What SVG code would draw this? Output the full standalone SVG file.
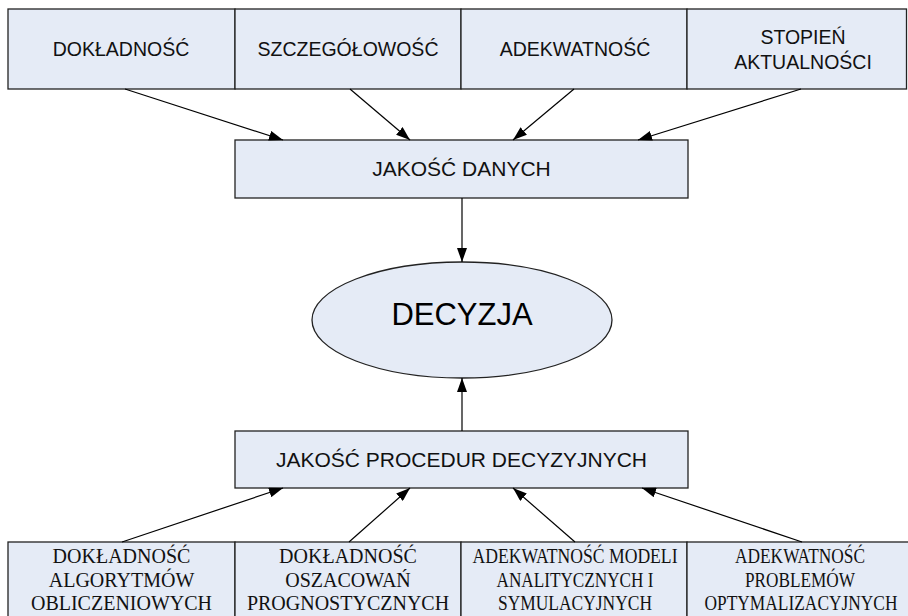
<svg xmlns="http://www.w3.org/2000/svg" width="908" height="616" viewBox="0 0 908 616">
  <defs>
    <marker id="arrow" viewBox="0 0 14 10" refX="14" refY="5" markerWidth="14" markerHeight="10" markerUnits="userSpaceOnUse" orient="auto">
      <path d="M0,0 L14,5 L0,10 Z" fill="#000"/>
    </marker>
    <style>
      .box { fill: #e5ebf6; stroke: #222; stroke-width: 1.3; }
      .sans { font-family: "Liberation Sans", Arial, sans-serif; font-size: 19.5px; fill: #111; text-anchor: middle; }
      .mid { font-family: "Liberation Sans", Arial, sans-serif; font-size: 21px; fill: #111; text-anchor: middle; }
      .serif { font-family: "Liberation Serif", "Times New Roman", serif; font-size: 20px; fill: #111; text-anchor: middle; }
      .big { font-family: "Liberation Sans", Arial, sans-serif; font-size: 31px; fill: #000; text-anchor: middle; }
      .conn line { stroke: #000; stroke-width: 1.2; marker-end: url(#arrow); }
    </style>
  </defs>
  <rect width="908" height="616" fill="#fff"/>

  <!-- data-quality factors -->
  <g id="dokladnosc">
    <rect class="box" x="8" y="9" width="227" height="80"/>
    <text class="sans" x="121" y="56">DOKŁADNOŚĆ</text>
  </g>
  <g id="szczegolowosc">
    <rect class="box" x="235" y="9" width="226" height="80"/>
    <text class="sans" x="348" y="56">SZCZEGÓŁOWOŚĆ</text>
  </g>
  <g id="adekwatnosc">
    <rect class="box" x="461" y="9" width="226" height="80"/>
    <text class="sans" x="575" y="56">ADEKWATNOŚĆ</text>
  </g>
  <g id="stopien-aktualnosci">
    <rect class="box" x="687" y="9" width="219.5" height="80"/>
    <text class="sans" x="803" y="43.5">STOPIEŃ</text>
    <text class="sans" x="803" y="68.5">AKTUALNOŚCI</text>
  </g>

  <g id="jakosc-danych">
    <rect class="box" x="235" y="140" width="453" height="58"/>
    <text class="mid" x="461.5" y="176">JAKOŚĆ DANYCH</text>
  </g>

  <g id="decyzja">
    <ellipse class="box" cx="462" cy="320" rx="150" ry="58"/>
    <text class="big" x="462" y="325">DECYZJA</text>
  </g>

  <g id="jakosc-procedur">
    <rect class="box" x="235" y="431" width="453" height="57"/>
    <text class="mid" x="461.5" y="467">JAKOŚĆ PROCEDUR DECYZYJNYCH</text>
  </g>

  <!-- decision-procedure factors -->
  <g id="algorytmy">
    <rect class="box" x="8" y="542" width="227" height="90"/>
    <text class="serif" x="121.5" y="563">DOKŁADNOŚĆ</text>
    <text class="serif" x="121.5" y="587">ALGORYTMÓW</text>
    <text class="serif" x="121.5" y="610">OBLICZENIOWYCH</text>
  </g>
  <g id="oszacowania">
    <rect class="box" x="235" y="542" width="226" height="90"/>
    <text class="serif" x="348" y="563">DOKŁADNOŚĆ</text>
    <text class="serif" x="348" y="587">OSZACOWAŃ</text>
    <text class="serif" x="348" y="610">PROGNOSTYCZNYCH</text>
  </g>
  <g id="modele">
    <rect class="box" x="461" y="542" width="226" height="90"/>
    <text class="serif" x="575" y="563" textLength="205" lengthAdjust="spacingAndGlyphs">ADEKWATNOŚĆ MODELI</text>
    <text class="serif" x="575" y="587" textLength="157" lengthAdjust="spacingAndGlyphs">ANALITYCZNYCH I</text>
    <text class="serif" x="575" y="610" textLength="154" lengthAdjust="spacingAndGlyphs">SYMULACYJNYCH</text>
  </g>
  <g id="problemy">
    <rect class="box" x="687" y="542" width="232" height="90"/>
    <text class="serif" x="800" y="563" textLength="130" lengthAdjust="spacingAndGlyphs">ADEKWATNOŚĆ</text>
    <text class="serif" x="800" y="587" textLength="110" lengthAdjust="spacingAndGlyphs">PROBLEMÓW</text>
    <text class="serif" x="801" y="610" textLength="193" lengthAdjust="spacingAndGlyphs">OPTYMALIZACYJNYCH</text>
  </g>

  <g id="connectors" class="conn">
    <line x1="125" y1="89" x2="283" y2="140"/>
    <line x1="350" y1="89" x2="410" y2="140"/>
    <line x1="574" y1="89" x2="513" y2="140"/>
    <line x1="801" y1="89" x2="638" y2="140"/>
    <line x1="462" y1="198" x2="462" y2="262"/>
    <line x1="462" y1="431" x2="462" y2="378"/>
    <line x1="122" y1="542" x2="283" y2="488"/>
    <line x1="349" y1="542" x2="410" y2="488"/>
    <line x1="575" y1="542" x2="513" y2="488"/>
    <line x1="802" y1="542" x2="642" y2="488"/>
  </g>
</svg>
